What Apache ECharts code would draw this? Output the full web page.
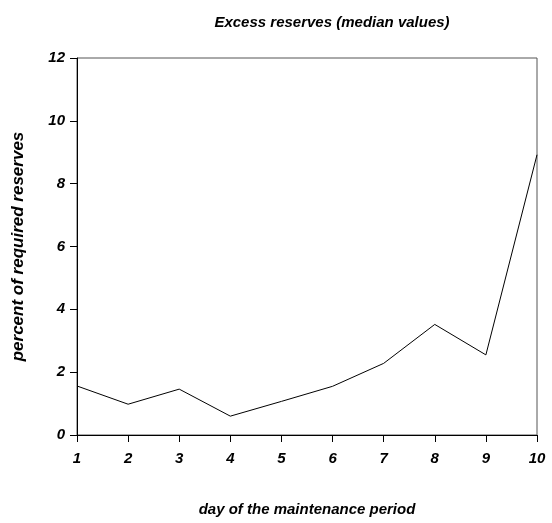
<!DOCTYPE html>
<html><head><meta charset="utf-8">
<script src="https://cdn.jsdelivr.net/npm/echarts@6/dist/echarts.min.js"></script>
<style>html,body{margin:0;padding:0;background:#fff}#c{width:552px;height:523px}</style>
</head><body><div id="c"></div>
<script>
var days = ['1','2','3','4','5','6','7','8','9','10'];
var excessReserves = [1.56, 0.98, 1.46, 0.60, 1.07, 1.55, 2.28, 3.52, 2.55, 8.92];
var yTicks = [0, 2, 4, 6, 8, 10, 12];

var font = {fontFamily: 'Liberation Sans, Arial, sans-serif', fontWeight: 'bold', fontStyle: 'italic', fontSize: 15, color: '#000'};
var chart = echarts.init(document.getElementById('c'));
chart.setOption({
  animation: false,
  title: {text: 'Excess reserves (median values)', left: 327, top: 10, textAlign: 'center',
    textStyle: Object.assign({}, font, {fontSize: 15})},
  grid: {left: 77, right: 15, top: 58, bottom: 88, show: true, borderColor: '#555', borderWidth: 1, backgroundColor: 'transparent'},
  xAxis: {type: 'category', data: days, boundaryGap: false,
    name: 'day of the maintenance period', nameLocation: 'middle', nameGap: 67,
    nameTextStyle: Object.assign({}, font, {fontSize: 15}),
    axisLine: {lineStyle: {color: '#000', width: 1}},
    axisTick: {length: 7, lineStyle: {color: '#000'}, alignWithLabel: true},
    axisLabel: Object.assign({}, font, {margin: 16}),
    splitLine: {show: false}},
  yAxis: {type: 'value', min: yTicks[0], max: yTicks[yTicks.length-1], interval: 2,
    name: 'percent of required reserves', nameLocation: 'middle', nameGap: 50,
    nameTextStyle: Object.assign({}, font, {fontSize: 17}),
    axisLine: {show: true, lineStyle: {color: '#000', width: 1}},
    axisTick: {show: true, length: 7, lineStyle: {color: '#000'}},
    axisLabel: Object.assign({}, font, {margin: 12}),
    splitLine: {show: false}},
  series: [{type: 'line', data: excessReserves, symbol: 'none',
    lineStyle: {color: '#000', width: 1}}]
});
</script></body></html>
